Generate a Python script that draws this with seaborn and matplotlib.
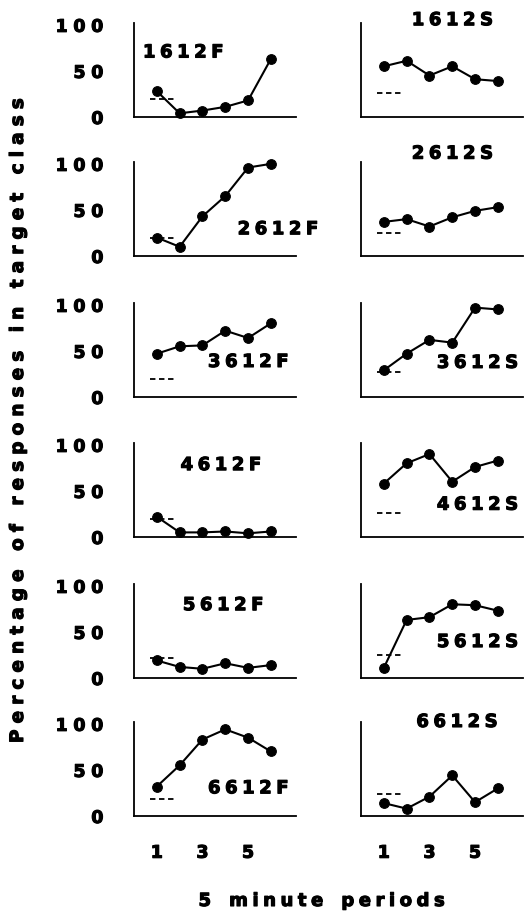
import numpy as np
import pandas as pd
import matplotlib.pyplot as plt
import matplotlib.patheffects as pe
import seaborn as sns

# --- Data ---
periods = [1, 2, 3, 4, 5, 6]
subjects_f = ["1612F", "2612F", "3612F", "4612F", "5612F", "6612F"]
subjects_s = ["1612S", "2612S", "3612S", "4612S", "5612S", "6612S"]

pct_1612F = [28, 4, 7, 11, 18, 63]
pct_2612F = [20, 10, 43, 65, 96, 100]
pct_3612F = [47, 55, 56, 72, 64, 80]
pct_4612F = [22, 5, 5, 6, 4, 6]
pct_5612F = [19, 12, 10, 16, 11, 14]
pct_6612F = [32, 55, 83, 94, 85, 70]

pct_1612S = [55, 61, 45, 55, 41, 39]
pct_2612S = [37, 40, 32, 42, 49, 53]
pct_3612S = [29, 47, 62, 59, 97, 95]
pct_4612S = [58, 80, 90, 60, 76, 83]
pct_5612S = [11, 63, 66, 80, 79, 73]
pct_6612S = [14, 8, 21, 44, 15, 30]

# baseline level (dashed) for each subject
baseline_f = [20, 20, 19, 19, 22, 18]
baseline_s = [26, 25, 27, 26, 25, 24]

series_f = [pct_1612F, pct_2612F, pct_3612F, pct_4612F, pct_5612F, pct_6612F]
series_s = [pct_1612S, pct_2612S, pct_3612S, pct_4612S, pct_5612S, pct_6612S]

# label placement in data coords (x, y)
label_pos_f = [(2.15, 70), (6.3, 29), (5.0, 38), (3.8, 78), (3.9, 79), (5.0, 30)]
label_pos_s = [(4.0, 105), (4.0, 111), (5.1, 37), (5.1, 35), (5.1, 39), (4.2, 102)]

sns.set_style("white")
plt.rcParams['font.family'] = ['DejaVu Sans']
plt.rcParams['font.weight'] = 'bold'
plt.rcParams['text.color'] = 'black'
plt.rcParams['xtick.color'] = 'black'
plt.rcParams['ytick.color'] = 'black'

# thicken glyphs a little, the original lettering is very heavy
heavy = [pe.withStroke(linewidth=0.8, foreground="black")]


def spaced(s, gap="\u2005"):
    # wide letter spacing like the original lettering
    return "\u2003".join(gap.join(w) for w in s.split(" "))


fig = plt.figure(figsize=(5.31, 9.21), dpi=100)
W, H = 531.0, 921.0
row_bottom_px = [117, 256, 397, 537, 678, 816]
col_left_px = [134, 361]
ax_w = 162 / W
ax_h = 94 / H

for r in range(6):
    for c in range(2):
        ax = fig.add_axes([col_left_px[c] / W, 1 - row_bottom_px[r] / H, ax_w, ax_h])
        if c == 0:
            name, vals, base, pos = subjects_f[r], series_f[r], baseline_f[r], label_pos_f[r]
        else:
            name, vals, base, pos = subjects_s[r], series_s[r], baseline_s[r], label_pos_s[r]
        df = pd.DataFrame({"period": periods, "pct": vals})
        sns.lineplot(data=df, x="period", y="pct", ax=ax, color="black",
                     marker="o", markersize=7, linewidth=1.5,
                     markeredgecolor="black", clip_on=False)
        ax.hlines(base, 0.7, 1.9, colors="black", linestyles=(0, (3, 2)), linewidth=1.3)
        ax.text(pos[0], pos[1], spaced(name), ha="center", va="center",
                fontsize=13, fontweight="bold", clip_on=False, path_effects=heavy)

        ax.set_xlim(0, 7.1)
        ax.set_ylim(0, 102)
        sns.despine(ax=ax)
        for sp in ["left", "bottom"]:
            ax.spines[sp].set_linewidth(1.3)
            ax.spines[sp].set_color("black")
        ax.set_xlabel("")
        ax.set_ylabel("")
        ax.tick_params(length=0)

        ax.set_yticks([0, 50, 100])
        if c == 0:
            ax.set_yticklabels([spaced(t, "\u2004") for t in ["0", "50", "100"]],
                               fontsize=12.5, fontweight="bold")
            ax.tick_params(axis="y", pad=22)
            for t in ax.get_yticklabels():
                t.set_path_effects(heavy)
        else:
            ax.set_yticklabels([])

        ax.set_xticks([1, 3, 5])
        if r == 5:
            ax.set_xticklabels(["1", "3", "5"], fontsize=12.5, fontweight="bold")
            ax.tick_params(axis="x", pad=20)
            for t in ax.get_xticklabels():
                t.set_path_effects(heavy)
        else:
            ax.set_xticklabels([])

fig.text(18 / W, 1 - 420 / H, spaced("Percentage of responses in target class", "\u2004"),
         rotation=90, ha="center", va="center", fontsize=13.3, fontweight="bold",
         path_effects=heavy)
fig.text(321 / W, 1 - 901 / H, spaced("5 minute periods"),
         ha="center", va="center", fontsize=13, fontweight="bold", path_effects=heavy)

fig.savefig("out.png", dpi=100)
